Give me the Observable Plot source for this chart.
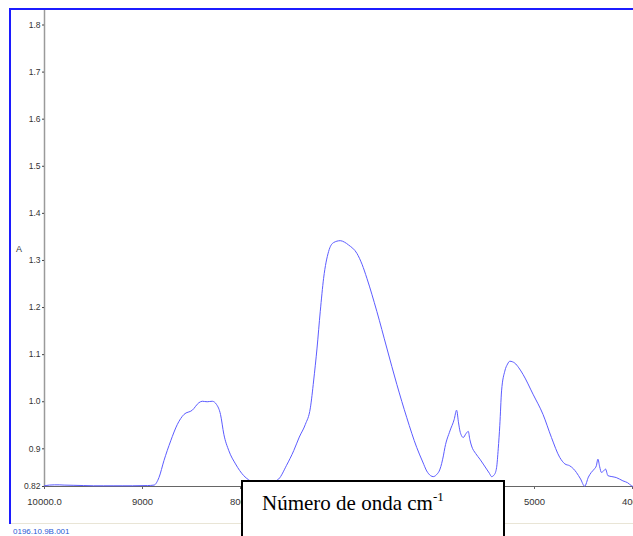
<!DOCTYPE html>
<html>
<head>
<meta charset="utf-8">
<script src="https://cdn.jsdelivr.net/npm/d3@7"></script>
<script src="https://cdn.jsdelivr.net/npm/@observablehq/plot@0.6"></script>
<style>
  html, body { margin: 0; padding: 0; background: #fff; }
  #wrap { position: relative; width: 633px; height: 536px; overflow: hidden; background: #fff; }
  #chart { position: absolute; left: 0; top: 0; }
  .frame { position: absolute; left: 9px; top: 8px; width: 700px; height: 514px;
           border-left: 2px solid #1c1cff; border-top: 2px solid #1c1cff; pointer-events: none; }
  .ylab { position: absolute; left: 16px; top: 244px; font: 9px "Liberation Sans Narrow", "Liberation Sans", sans-serif; color: #333; }
  .sep { position: absolute; left: 11px; top: 523px; width: 622px; height: 1px; background: #e9e5d6; }
  .file { position: absolute; left: 13px; top: 527px; font: 8px "Liberation Sans Narrow", "Liberation Sans", sans-serif; color: #2a5ad6; }
  .xbox { position: absolute; left: 241px; top: 480px; width: 260px; height: 80px; background: #fff;
          border: 2px solid #000; font-family: "Liberation Serif", "DejaVu Serif", serif; font-size: 21px; color: #000; }
  .xbox span.t { position: absolute; left: 19px; top: 9px; white-space: nowrap; }
  .xbox sup { font-size: 13px; vertical-align: 9px; line-height: 0; }
</style>
</head>
<body>
<div id="wrap">
  <div id="chart"></div>
  <div class="frame"></div>
  <div class="ylab">A</div>
  <div class="sep"></div>
  <div class="file">0196.10.9B.001</div>
  <div class="xbox"><span class="t">Número de onda cm<sup>-1</sup></span></div>
</div>
<script>
const wavenumber = [10000, 9950, 9900, 9850, 9800, 9700, 9600, 9500, 9400, 9300, 9200, 9100, 8950, 8882, 8832, 8781, 8712, 8644, 8577, 8492, 8424, 8390, 8340, 8288, 8244, 8204, 8170, 8119, 8051, 7967, 7916, 7850, 7780, 7700, 7610, 7530, 7457, 7400, 7338, 7287, 7254, 7219, 7186, 7152, 7101, 7050, 6982, 6940, 6898, 6812, 6760, 6710, 6609, 6507, 6405, 6303, 6202, 6140, 6100, 6060, 6033, 6000, 5964, 5930, 5914, 5863, 5820, 5795, 5775, 5761, 5745, 5727, 5700, 5676, 5660, 5642, 5600, 5557, 5489, 5460, 5438, 5410, 5387, 5370, 5354, 5336, 5303, 5275, 5252, 5201, 5160, 5117, 5015, 4913, 4827, 4743, 4690, 4641, 4600, 4573, 4530, 4488, 4450, 4420, 4390, 4369, 4353, 4335, 4318, 4295, 4275, 4251, 4210, 4166, 4098, 4050, 4013, 4000];
const absorbance = [0.8215, 0.823, 0.8235, 0.8235, 0.823, 0.8225, 0.822, 0.8215, 0.8215, 0.8215, 0.8215, 0.8215, 0.822, 0.823, 0.839, 0.875, 0.917, 0.952, 0.973, 0.982, 0.998, 1.001, 1.0, 1.001, 0.994, 0.973, 0.931, 0.896, 0.868, 0.843, 0.834, 0.826, 0.823, 0.827, 0.836, 0.865, 0.896, 0.925, 0.952, 0.987, 1.044, 1.114, 1.192, 1.262, 1.319, 1.338, 1.342, 1.339, 1.333, 1.315, 1.292, 1.262, 1.192, 1.114, 1.037, 0.966, 0.903, 0.872, 0.853, 0.843, 0.841, 0.845, 0.857, 0.885, 0.903, 0.938, 0.962, 0.982, 0.955, 0.938, 0.928, 0.924, 0.932, 0.937, 0.92, 0.906, 0.89, 0.878, 0.857, 0.848, 0.841, 0.845, 0.86, 0.9, 0.95, 1.023, 1.065, 1.08, 1.086, 1.082, 1.072, 1.058, 1.016, 0.973, 0.924, 0.882, 0.868, 0.864, 0.857, 0.85, 0.836, 0.8205, 0.84, 0.85, 0.857, 0.864, 0.878, 0.862, 0.85, 0.853, 0.857, 0.843, 0.841, 0.839, 0.832, 0.828, 0.822, 0.8205];

const yTicks = [0.82, 0.9, 1.0, 1.1, 1.2, 1.3, 1.4, 1.5, 1.6, 1.7, 1.8];
const yTickLabels = ["0.82", "0.9", "1.0", "1.1", "1.2", "1.3", "1.4", "1.5", "1.6", "1.7", "1.8"];
const xTicks = [10000, 9000, 8000, 7000, 6000, 5000, 4000];
const xTickLabels = ["10000.0", "9000", "8000", "7000", "6000", "5000", "4000"];

const data = wavenumber.map((w, i) => ({w, a: absorbance[i]}));

const chart = Plot.plot({
  width: 633,
  height: 536,
  marginLeft: 44,
  marginRight: 1,
  marginTop: 10,
  marginBottom: 50,
  style: {background: "transparent", fontFamily: "'Liberation Sans Narrow', 'Liberation Sans', sans-serif", color: "#333"},
  x: {domain: [10000, 4000]},
  y: {domain: [0.82, 1.8308]},
  marks: [
    Plot.ruleX([10000], {stroke: "#9a9a9a", strokeWidth: 1.5}),
    Plot.ruleY([0.82], {stroke: "#666"}),
    Plot.axisY({ticks: yTicks, tickFormat: d => yTickLabels[yTicks.indexOf(d)], tickSize: 2, tickPadding: 2,
                fontSize: 8.5, label: null, stroke: "#444", fill: "#333"}),
    Plot.axisX({ticks: xTicks, tickFormat: d => xTickLabels[xTicks.indexOf(d)], tickSize: 3, tickPadding: 9,
                fontSize: 9.5, label: null, stroke: "#666", fill: "#333"}),
    Plot.line(data, {x: "w", y: "a", stroke: "#5c5cff", strokeWidth: 1, curve: "monotone-x"})
  ]
});
document.getElementById("chart").appendChild(chart);
</script>
</body>
</html>
